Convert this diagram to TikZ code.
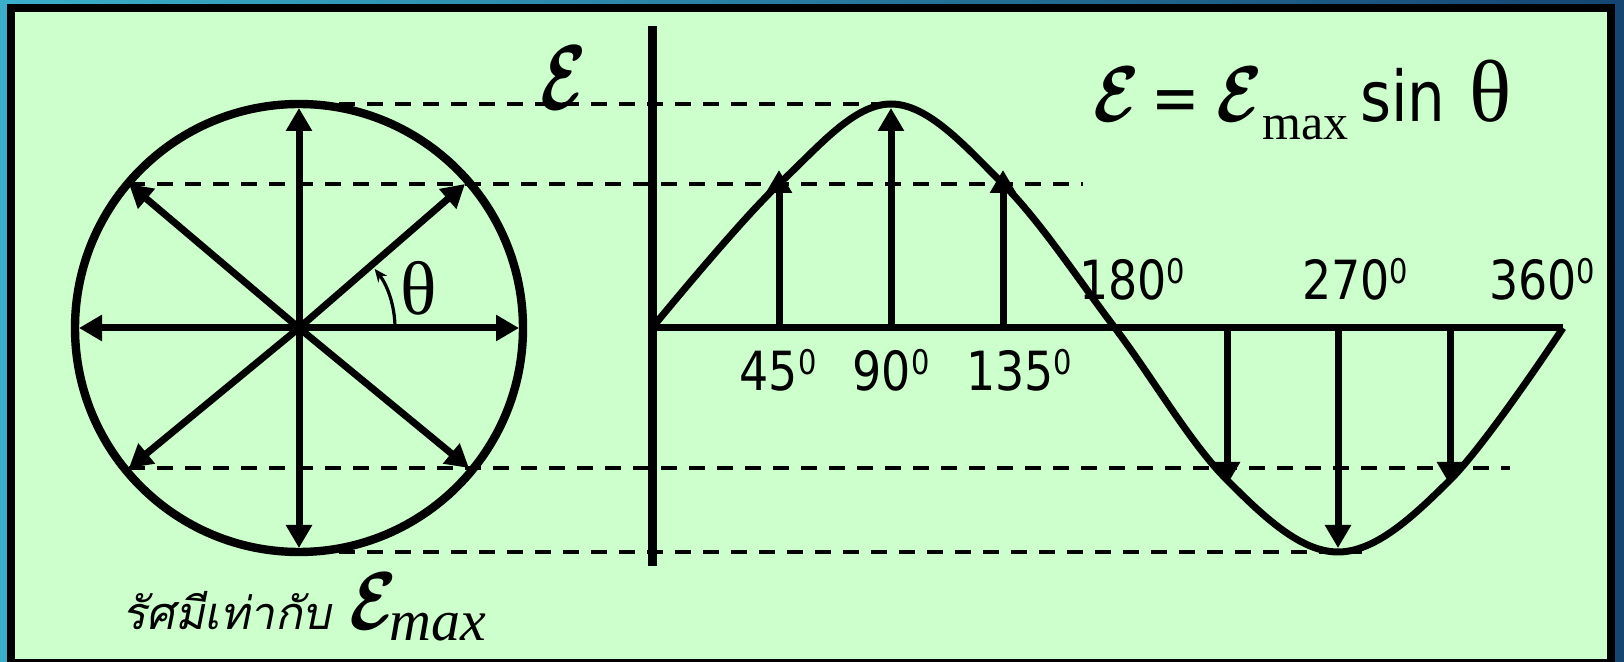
\documentclass[tikz,border=0pt]{standalone}
\usepackage{fontspec}
\newfontfamily\labelfont[FakeStretch=0.85]{DejaVu Sans}
\newfontfamily\seriffont{Liberation Serif}
\newfontfamily\thaifont[Script=Thai,FakeSlant=0.2]{Loma}
\usetikzlibrary{arrows.meta}
\definecolor{panelgreen}{HTML}{CCFFCC}
\definecolor{edgeleft}{HTML}{3AAFCB}
\definecolor{edgeright}{HTML}{154570}
\newcommand{\sdeg}{\raisebox{8pt}{\fontsize{17}{17}\selectfont 0}}
\newcommand{\scE}[2]{\scalebox{#1}[#2]{\boldmath$\mathcal{E}$}}

\begin{document}
\begin{tikzpicture}[x=0.5pt, y=-0.5pt,
    vec/.style={line width=3.5pt, -{Triangle[length=11.5pt, width=12.5pt]}},
    guide/.style={line width=2pt, dash pattern=on 8pt off 6pt},
    deglabel/.style={font=\labelfont\fontsize{27}{30}\selectfont, anchor=base, inner sep=0pt}]
    % Frame
    \useasboundingbox (0,0) rectangle (1624,662);
    \shade[left color=edgeleft, right color=edgeright] (0,0) rectangle (1624,662);
    \fill[black] (7,4) rectangle (1615,662);
    \fill[panelgreen] (15,12) rectangle (1607,659);
    % Phasor tips
    \coordinate (O) at (299,328);
    \coordinate (pN) at (299,108);
    \coordinate (pS) at (299,548);
    \coordinate (pW) at (79,328);
    \coordinate (pE) at (519,328);
    \coordinate (pNW) at (129,184);
    \coordinate (pNE) at (465,184);
    \coordinate (pSW) at (129,468);
    \coordinate (pSE) at (469,468);
    % Axes and arrow feet / tips on the wave
    \coordinate (yTop) at (652,26);
    \coordinate (yBot) at (652,566);
    \coordinate (x0) at (652,328);
    \coordinate (x360) at (1563,328);
    \coordinate (b45) at (779,328);   \coordinate (t45) at (779,170);
    \coordinate (b90) at (891,328);   \coordinate (t90) at (891,108);
    \coordinate (b135) at (1003,328); \coordinate (t135) at (1003,170);
    \coordinate (b225) at (1227,328); \coordinate (t225) at (1227,485);
    \coordinate (b270) at (1338,328); \coordinate (t270) at (1338,548);
    \coordinate (b315) at (1450,328); \coordinate (t315) at (1450,485);
    % Dashed projection lines
    \draw[guide] (339,104) -- (891,104);
    \draw[guide] (pNW) -- (1083,184);
    \draw[guide] (pSW) -- (1510,468);
    \draw[guide] (339,552) -- (1362,552);
    % Circle with rotating phasors
    \draw[line width=4.2pt] (O) circle[radius=224];
    \draw[vec] (O) -- (pN);
    \draw[vec] (O) -- (pS);
    \draw[vec] (O) -- (pW);
    \draw[vec] (O) -- (pE);
    \draw[vec] (O) -- (pNW);
    \draw[vec] (O) -- (pNE);
    \draw[vec] (O) -- (pSW);
    \draw[vec] (O) -- (pSE);
    \coordinate (arcStart) at (395,328);
    \draw[line width=1.6pt, -{Stealth[length=6.5pt, width=5.5pt]}]
        (arcStart) arc[start angle=0, end angle=-38, radius=96];
    \node[font=\seriffont\fontsize{38}{40}\selectfont, anchor=base west, inner sep=0pt]
        (theta) at (400,315) {θ};
    % Axes
    \draw[line width=4.5pt] (yTop) -- (yBot);
    \draw[line width=3.5pt] (x0) -- (x360);
    % Sine wave
    \draw[line width=3.5pt, line join=round] plot[smooth, tension=0.6] coordinates
        {(652,328) (779,184) (891,104) (1003,184) (1115,328)
         (1227,480) (1338,552) (1450,480) (1563,328)};
    % Instantaneous values
    \draw[vec] (b45) -- (t45);
    \draw[vec] (b90) -- (t90);
    \draw[vec] (b135) -- (t135);
    \draw[vec] (b225) -- (t225);
    \draw[vec] (b270) -- (t270);
    \draw[vec] (b315) -- (t315);
    % Angle labels
    \node[deglabel] (d45) at (778,391) {45\sdeg};
    \node[deglabel] (d90) at (891,391) {90\sdeg};
    \node[deglabel] (d135) at (1019,391) {135\sdeg};
    \node[deglabel] (d180) at (1132,300) {180\sdeg};
    \node[deglabel] (d270) at (1355,300) {270\sdeg};
    \node[deglabel] (d360) at (1542,300) {360\sdeg};
    % Axis symbol and equation
    \node[inner sep=0pt] (axisE) at (564,78) {\scE{3.35}{4.6}};
    \node[anchor=base west, inner sep=0pt] (eqn) at (1093,122)
        {\scE{3.35}{3.95}\hspace{6pt}%
         {\labelfont\fontsize{34}{36}\selectfont=}\hspace{8pt}%
         \scE{3.35}{3.95}%
         \raisebox{-9pt}{\seriffont\fontsize{25}{28}\selectfont max}\hspace{6pt}%
         {\labelfont\fontsize{35}{38}\selectfont sin}\hspace{12pt}%
         {\seriffont\fontsize{44}{46}\selectfont θ}};
    % Caption
    \node[anchor=base west, inner sep=0pt, font=\thaifont\fontsize{22.5}{26}\selectfont]
        (radius) at (122,630) {รัศมีเท่ากับ};
    \node[anchor=base west, inner sep=0pt] (capE) at (349,630) {\scE{3.45}{4.1}};
    \node[anchor=base west, inner sep=0pt, font=\seriffont\itshape\fontsize{29}{32}\selectfont]
        (capmax) at (389,640) {max};
\end{tikzpicture}
\end{document}
